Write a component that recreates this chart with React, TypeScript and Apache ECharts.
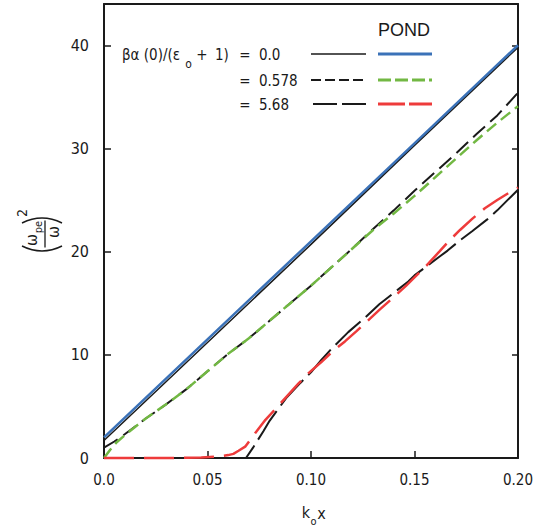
import React, { useEffect, useRef } from "react";
import * as echarts from "echarts";

const FONT = "'Liberation Sans Narrow', 'DejaVu Sans Condensed', 'Liberation Sans', sans-serif";
const FONT_REG = "'Liberation Sans', Arial, sans-serif";

// beta*alpha(0)/(eps0+1) = 0.0
const kZero = [0, 0.05, 0.1, 0.15, 0.2];
const zeroBlack = [1.7, 11.2, 20.7, 30.3, 39.8];
const zeroPond = [2.0, 11.5, 21.0, 30.5, 40.0];

// = 0.578
const kMidBlack = [0, 0.005, 0.01, 0.02, 0.03, 0.04, 0.05, 0.06, 0.07, 0.08, 0.09, 0.1, 0.11, 0.12, 0.13, 0.14, 0.15, 0.16, 0.17, 0.18, 0.19, 0.2];
const midBlack = [1.0, 1.6, 2.3, 3.8, 5.2, 6.7, 8.4, 10.1, 11.6, 13.3, 15.0, 16.7, 18.5, 20.3, 22.2, 24.0, 25.9, 27.7, 29.5, 31.4, 33.2, 35.4];
const kMidPond = [0, 0.003, 0.006, 0.01, 0.02, 0.03, 0.04, 0.05, 0.06, 0.07, 0.08, 0.09, 0.1, 0.11, 0.12, 0.13, 0.14, 0.15, 0.16, 0.17, 0.18, 0.19, 0.2];
const midPond = [0, 0.8, 1.5, 2.2, 3.8, 5.2, 6.7, 8.4, 10.1, 11.6, 13.3, 15.0, 16.7, 18.5, 20.3, 22.1, 23.7, 25.4, 27.2, 29.0, 30.8, 32.5, 34.1];

// = 5.68
const kHighBlack = [0, 0.0686, 0.072, 0.077, 0.08, 0.088, 0.095, 0.1, 0.105, 0.11, 0.118, 0.125, 0.133, 0.14, 0.147, 0.15, 0.156, 0.162, 0.166, 0.172, 0.178, 0.185, 0.19, 0.197, 0.2];
const highBlack = [0, 0, 1.0, 2.6, 3.6, 5.8, 7.3, 8.3, 9.5, 10.6, 12.2, 13.4, 14.9, 16.0, 17.1, 17.7, 18.6, 19.5, 20.1, 21.1, 22.0, 23.1, 24.0, 25.4, 26.0];
const kHighPond = [0, 0.03, 0.04, 0.047, 0.055, 0.06, 0.0625, 0.065, 0.0682, 0.073, 0.078, 0.0826, 0.088, 0.0939, 0.0987, 0.105, 0.1108, 0.1164, 0.122, 0.1285, 0.1333, 0.14, 0.146, 0.15, 0.156, 0.162, 0.167, 0.172, 0.178, 0.184, 0.19, 0.198, 0.2];
const highPond = [0, 0, 0.02, 0.05, 0.15, 0.28, 0.4, 0.7, 1.1, 2.4, 3.7, 4.7, 5.9, 7.2, 8.2, 9.3, 10.4, 11.3, 12.3, 13.5, 14.4, 15.6, 16.7, 17.5, 18.7, 20.0, 21.1, 22.1, 23.2, 24.2, 25.0, 26.0, 26.2];

const legendValues = ["0.0", "0.578", "5.68"];

const pair = (ks: number[], vs: number[]) => ks.map((k, i) => [k, vs[i]]);

const BLUE = "#3b72b8";
const GREEN = "#72b843";
const RED = "#ee3b3b";
const INK = "#1a1a1a";

function txt(text: string, x: number, y: number, size: number, align = "left", family = FONT) {
  return {
    type: "text",
    x,
    y,
    style: {
      text,
      fill: INK,
      font: `${size}px ${family}`,
      align,
      textAlign: align,
      verticalAlign: "middle",
      textVerticalAlign: "middle",
    },
  };
}

function seg(x1: number, x2: number, y: number, color: string, width: number, dash: any) {
  return {
    type: "line",
    shape: { x1, y1: y, x2, y2: y },
    style: { stroke: color, lineWidth: width, lineDash: dash },
  };
}

export default function App() {
  const ref = useRef<HTMLDivElement>(null);
  useEffect(() => {
    if (!ref.current) return;
    const chart = echarts.init(ref.current, null, { renderer: "svg" });
    const lineSeries = (data: number[][], color: string, width: number, type: any, z: number) => ({
      type: "line",
      data,
      showSymbol: false,
      symbol: "none",
      clip: false,
      z,
      lineStyle: { color, width, type },
    });
    const axisLine = { show: true, onZero: false, lineStyle: { color: INK, width: 2 } };
    const rowsY = [54, 80, 104];
    const legendGraphics: any[] = [];
    legendGraphics.push(txt("POND", 404, 30, 18, "center", FONT_REG));
    legendGraphics.push(txt("βα (0)/(ε", 122, 55, 15));
    legendGraphics.push(txt("o", 188.5, 64, 12, "center"));
    legendGraphics.push(txt("+", 202, 55, 15, "center"));
    legendGraphics.push(txt("1)", 215, 55, 15));
    legendValues.forEach((v, i) => {
      legendGraphics.push(txt("=", 245, rowsY[i] + 1, 15, "center"));
      legendGraphics.push(txt(v, 259, rowsY[i] + 1, 15));
    });
    legendGraphics.push(seg(311, 366, rowsY[0], INK, 1.5, null));
    legendGraphics.push(seg(378, 432, rowsY[0], BLUE, 3, null));
    legendGraphics.push(seg(311, 366, rowsY[1], INK, 2, [10, 4]));
    legendGraphics.push(seg(378, 432, rowsY[1], GREEN, 3, [13, 4]));
    legendGraphics.push(seg(313, 366, rowsY[2], INK, 2, [24, 5]));
    legendGraphics.push(seg(378, 432, rowsY[2], RED, 3, [27, 4]));

    const yName = {
      type: "group",
      x: 42,
      y: 234.5,
      rotation: Math.PI / 2,
      children: [
        { type: "bezierCurve", shape: { x1: -11.5, y1: -20, x2: -11.5, y2: 20, cpx1: -21.5, cpy1: 0 }, style: { stroke: INK, lineWidth: 1.4, fill: null } },
        { type: "bezierCurve", shape: { x1: 11.5, y1: -20, x2: 11.5, y2: 20, cpx1: 21.5, cpy1: 0 }, style: { stroke: INK, lineWidth: 1.4, fill: null } },
        { type: "line", shape: { x1: -13, y1: 3, x2: 14, y2: 3 }, style: { stroke: INK, lineWidth: 1.3 } },
        txt("ω", -5.5, -11, 16, "center"),
        txt("pe", 7.5, -4, 11, "center"),
        txt("ω", 2.5, 11, 16, "center"),
        txt("2", 21.5, -20, 14, "center"),
      ],
    };

    chart.setOption({
      animation: false,
      backgroundColor: "#ffffff",
      grid: { left: 104, right: 18, top: 4, bottom: 71, containLabel: false },
      xAxis: [
        {
          type: "value",
          min: 0,
          max: 0.2,
          interval: 0.05,
          position: "bottom",
          axisLine,
          axisTick: { show: true, inside: true, length: 7, lineStyle: { color: INK, width: 1.5 } },
          axisLabel: {
            margin: 14,
            fontSize: 15,
            color: INK,
            fontFamily: FONT,
            formatter: (v: number) => (v === 0 ? "0.0" : v.toFixed(2)),
          },
          splitLine: { show: false },
        },
        {
          type: "value",
          min: 0,
          max: 0.2,
          interval: 0.05,
          position: "top",
          axisLine,
          axisTick: { show: false },
          axisLabel: { show: false },
          splitLine: { show: false },
        },
      ],
      yAxis: [
        {
          type: "value",
          min: 0,
          max: 44,
          interval: 10,
          position: "left",
          axisLine,
          axisTick: { show: true, inside: true, length: 7, lineStyle: { color: INK, width: 1.5 } },
          axisLabel: {
            margin: 15,
            fontSize: 16,
            color: INK,
            fontFamily: FONT,
            showMaxLabel: false,
            formatter: (v: number) => (v % 10 === 0 ? String(v) : ""),
          },
          splitLine: { show: false },
        },
        {
          type: "value",
          min: 0,
          max: 44,
          interval: 10,
          position: "right",
          axisLine,
          axisTick: { show: true, inside: true, length: 6, lineStyle: { color: INK, width: 1.5 } },
          axisLabel: { show: false },
          splitLine: { show: false },
        },
      ],
      series: [
        lineSeries(pair(kZero, zeroBlack), INK, 1.5, "solid", 2),
        lineSeries(pair(kZero, zeroPond), BLUE, 2.5, "solid", 3),
        lineSeries(pair(kMidBlack, midBlack), INK, 2, [16, 7], 2),
        lineSeries(pair(kMidPond, midPond), GREEN, 2.5, [12, 6], 3),
        lineSeries(pair(kHighBlack, highBlack), INK, 2, [34, 7], 2),
        lineSeries(pair(kHighPond, highPond), RED, 2.5, [30, 10], 3),
      ],
      graphic: [
        ...legendGraphics,
        yName,
        txt("k", 306, 512, 16, "center"),
        txt("o", 313.5, 521, 11, "center"),
        txt("x", 321.5, 513, 16, "center"),
      ],
    });
    return () => chart.dispose();
  }, []);
  return (
    <div
      ref={ref}
      style={{ position: "fixed", left: 0, top: 0, width: 536, height: 529, background: "#fff" }}
    />
  );
}
